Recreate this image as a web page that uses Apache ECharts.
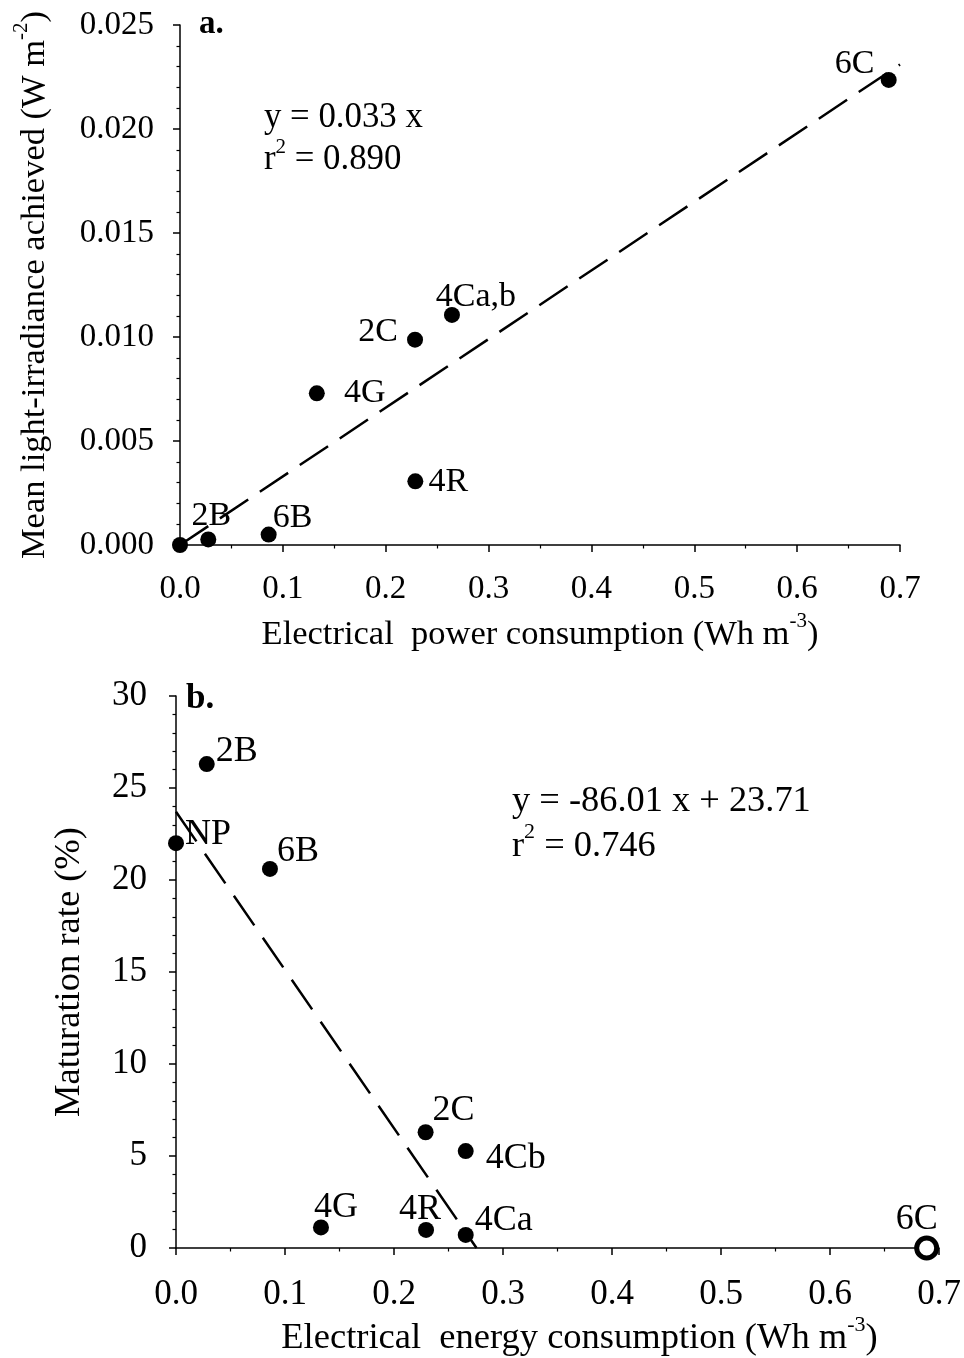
<!DOCTYPE html>
<html>
<head>
<meta charset="utf-8">
<script src="https://cdn.jsdelivr.net/npm/echarts@6/dist/echarts.min.js"></script>
<style>
html,body{margin:0;padding:0;background:#fff;}
#chart{width:964px;height:1358px;}
</style>
</head>
<body>
<div id="chart"></div>
<script>
// ---------- Panel a data ----------
const namesA = ['NP', '2B', '6B', '4G', '2C', '4Ca,b', '4R', '6C'];
const powerA = [0.000, 0.0275, 0.0862, 0.1330, 0.2285, 0.2644, 0.2288, 0.6890];
const irradA = [0.00000, 0.00027, 0.00050, 0.00729, 0.00987, 0.01106, 0.00306, 0.02236];
const fitAx = [0, 0.7];
const fitAy = [0, 0.0231];
const xTicksA = ['0.0', '0.1', '0.2', '0.3', '0.4', '0.5', '0.6', '0.7'];
const yTicksA = ['0.000', '0.005', '0.010', '0.015', '0.020', '0.025'];

// ---------- Panel b data ----------
const namesB = ['NP', '2B', '6B', '4G', '4R', '2C', '4Cb', '4Ca', '6C'];
const energyB = [0.000, 0.0282, 0.0862, 0.1330, 0.2294, 0.2290, 0.2658, 0.2658, 0.6887];
const matB = [22.0, 26.3, 20.6, 1.12, 0.98, 6.29, 5.27, 0.71, 0.0];
const fitBx = [0, 0.2757];
const fitBy = [23.71, 0];
const xTicksB = ['0.0', '0.1', '0.2', '0.3', '0.4', '0.5', '0.6', '0.7'];
const yTicksB = ['0', '5', '10', '15', '20', '25', '30'];

// ---------- label placement (style only, px offsets from marker centre) ----------
const offA = {
  'NP': null, '2B': [3, -23], '6B': [24, -17], '4G': [48, 0], '2C': [-37, -8],
  '4Ca,b': [24, -18], '4R': [33, 1], '6C': [-34, -16]
};
const offB = {
  'NP': [32, -9], '2B': [30, -13], '6B': [28, -17], '4G': [15, -20], '4R': [-6, -20],
  '2C': [28, -22], '4Cb': [50, 8], '4Ca': [38, -14], '6C': [-10, -28]
};

const FONT = "'Liberation Serif', 'Times New Roman', serif";
const FS_A = 34, FS_B = 36;

const pointsA = namesA.map((n, i) => {
  const o = offA[n];
  return {
    value: [powerA[i], irradA[i]],
    name: n,
    label: o ? {show: true, formatter: n, position: 'inside', offset: o, opacity: 1,
      align: 'center', verticalAlign: 'middle', color: '#000', fontSize: FS_A, fontFamily: FONT} : {show: false}
  };
});
const pointsB = namesB.map((n, i) => {
  const o = offB[n];
  const item = {
    value: [energyB[i], matB[i]],
    name: n,
    label: {show: true, formatter: n, position: 'inside', offset: o, opacity: 1,
      align: 'center', verticalAlign: 'middle', color: '#000', fontSize: FS_B, fontFamily: FONT}
  };
  if (n === '6C') {
    item.symbolSize = 20;
    item.itemStyle = {color: '#fff', borderColor: '#000', borderWidth: 5, opacity: 1};
  }
  return item;
});

function axisCommon() {
  return {
    axisLine: {show: true, onZero: false, lineStyle: {color: '#000', width: 1.5}},
    axisTick: {show: true, inside: false, length: 7, lineStyle: {color: '#000', width: 1.5}},
    splitLine: {show: false},
    minorSplitLine: {show: false}
  };
}

const sup = (fs) => ({
  a: {fontSize: fs, fontFamily: FONT, color: '#000', lineHeight: Math.round(fs * 1.35)},
  s: {fontSize: Math.round(fs * 0.6), fontFamily: FONT, color: '#000', verticalAlign: 'top', lineHeight: Math.round(fs * 0.6)}
});

const option = {
  animation: false,
  backgroundColor: '#fff',
  grid: [
    {left: 180, top: 25, width: 720, height: 520},
    {left: 176, top: 696, width: 763, height: 552}
  ],
  xAxis: [
    Object.assign(axisCommon(), {
      gridIndex: 0, type: 'value', min: 0, max: 0.7, interval: 0.1,
      minorTick: {show: true, splitNumber: 2, length: 3.5, lineStyle: {color: '#000', width: 1.2}},
      axisLabel: {margin: 28, fontSize: 33, fontFamily: FONT, color: '#000',
        formatter: v => xTicksA[Math.round(v / 0.1)]},
      name: '{a|Electrical  power consumption (Wh m}{s|-3}{a|)}',
      nameLocation: 'middle', nameGap: 66,
      nameTextStyle: {rich: sup(34.5)}
    }),
    Object.assign(axisCommon(), {
      gridIndex: 1, type: 'value', min: 0, max: 0.7, interval: 0.1,
      minorTick: {show: true, splitNumber: 2, length: 3.5, lineStyle: {color: '#000', width: 1.2}},
      axisLabel: {margin: 29, fontSize: 35, fontFamily: FONT, color: '#000',
        formatter: v => xTicksB[Math.round(v / 0.1)]},
      name: '{a|Electrical  energy consumption (Wh m}{s|-3}{a|)}',
      nameLocation: 'middle', nameGap: 66,
      nameTextStyle: {rich: sup(36.5), padding: [0, 0, 0, 44]}
    })
  ],
  yAxis: [
    Object.assign(axisCommon(), {
      gridIndex: 0, type: 'value', min: 0, max: 0.025, interval: 0.005,
      minorTick: {show: true, splitNumber: 5, length: 3.5, lineStyle: {color: '#000', width: 1.2}},
      axisLabel: {margin: 26, fontSize: 33, fontFamily: FONT, color: '#000',
        formatter: v => yTicksA[Math.round(v / 0.005)]},
      name: '{a|Mean light-irradiance achieved (W m}{s|-2}{a|)}',
      nameLocation: 'middle', nameGap: 122, nameRotate: 90,
      nameTextStyle: {rich: sup(34.5)}
    }),
    Object.assign(axisCommon(), {
      gridIndex: 1, type: 'value', min: 0, max: 30, interval: 5,
      minorTick: {show: true, splitNumber: 5, length: 3.5, lineStyle: {color: '#000', width: 1.2}},
      axisLabel: {margin: 29, fontSize: 35, fontFamily: FONT, color: '#000',
        formatter: v => yTicksB[Math.round(v / 5)]},
      name: 'Maturation rate (%)',
      nameLocation: 'middle', nameGap: 88, nameRotate: 90,
      nameTextStyle: {fontSize: 36.5, fontFamily: FONT, color: '#000'}
    })
  ],
  series: [
    {
      type: 'line', xAxisIndex: 0, yAxisIndex: 0, silent: true, symbol: 'none', z: 1,
      data: fitAx.map((x, i) => [x, fitAy[i]]),
      lineStyle: {color: '#000', width: 2.5, type: [34, 14], opacity: 1}
    },
    {
      type: 'scatter', xAxisIndex: 0, yAxisIndex: 0, symbol: 'circle', symbolSize: 16, clip: false, z: 3,
      itemStyle: {color: '#000', opacity: 1},
      data: pointsA
    },
    {
      type: 'line', xAxisIndex: 1, yAxisIndex: 1, silent: true, symbol: 'none', z: 1,
      data: fitBx.map((x, i) => [x, fitBy[i]]),
      lineStyle: {color: '#000', width: 2.5, type: [36, 15], opacity: 1}
    },
    {
      type: 'scatter', xAxisIndex: 1, yAxisIndex: 1, symbol: 'circle', symbolSize: 16, clip: false, z: 3,
      itemStyle: {color: '#000', opacity: 1},
      data: pointsB
    }
  ],
  graphic: [
    {type: 'text', left: 199, top: 8, style: {text: 'a.', fontSize: 33, fontWeight: 'bold', fontFamily: FONT, fill: '#000'}},
    {type: 'text', left: 186, top: 681, style: {text: 'b.', fontSize: 35, fontWeight: 'bold', fontFamily: FONT, fill: '#000'}},
    {type: 'text', x: 264, y: 118, style: {text: 'y = 0.033 x', fontSize: 34.8, fontFamily: FONT, fill: '#000', verticalAlign: 'middle'}},
    {type: 'text', x: 264, y: 160, style: {text: '{a|r}{s|2}{a| = 0.890}', rich: sup(34.8), verticalAlign: 'middle'}},
    {type: 'text', x: 512, y: 801, style: {text: 'y = -86.01 x + 23.71', fontSize: 36.4, fontFamily: FONT, fill: '#000', verticalAlign: 'middle'}},
    {type: 'text', x: 512, y: 846, style: {text: '{a|r}{s|2}{a| = 0.746}', rich: sup(36.4), verticalAlign: 'middle'}}
  ]
};

const chart = echarts.init(document.getElementById('chart'), null, {renderer: 'canvas'});
chart.setOption(option);
</script>
</body>
</html>
